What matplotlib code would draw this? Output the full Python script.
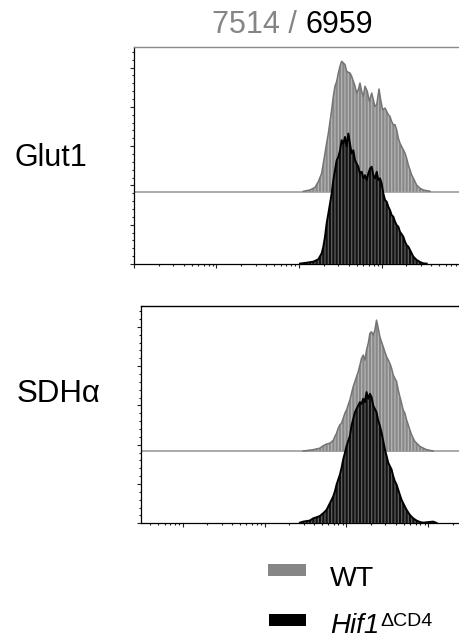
import numpy as np
import matplotlib
matplotlib.use('Agg')
import matplotlib.pyplot as plt
from matplotlib.ticker import MultipleLocator, LogLocator, NullFormatter
from matplotlib.patches import Rectangle

plt.rcParams['font.family'] = ['Liberation Sans', 'DejaVu Sans']
plt.rcParams['hatch.linewidth'] = 0.9

# histograms: log10 fluorescence vs % of mode
glut1_wt_log = [3.053, 3.133, 3.194, 3.234, 3.275, 3.295, 3.315, 3.335, 3.356, 3.376,
                3.396, 3.416, 3.436, 3.457, 3.477, 3.497, 3.517, 3.537, 3.558, 3.578,
                3.598, 3.618, 3.638, 3.659, 3.679, 3.699, 3.719, 3.739, 3.760, 3.780,
                3.800, 3.828, 3.853, 3.881, 3.901, 3.921, 3.942, 3.970, 3.990, 4.014,
                4.043, 4.063, 4.083, 4.103, 4.123, 4.144, 4.164, 4.184, 4.204, 4.224,
                4.244, 4.265, 4.285, 4.305, 4.325, 4.346, 4.366, 4.386, 4.406, 4.426,
                4.467, 4.507, 4.588]
glut1_wt_pct = [0.3, 1.3, 3.3, 7.7, 14.1, 21.8, 29.5, 37.2, 44.9, 53.8,
                62.8, 73.1, 80.8, 84.6, 91.0, 96.2, 100, 98.7, 97.4, 92.3,
                91.5, 91.0, 88.5, 84.6, 80.8, 75.6, 78.2, 83.3, 76.9, 73.1,
                80.8, 76.9, 69.2, 75.6, 70.5, 65.4, 66.7, 78.7, 70.5, 62.8,
                64.1, 61.5, 59.0, 57.7, 53.8, 51.3, 51.3, 47.4, 41.0, 37.2,
                34.6, 32.1, 29.5, 25.6, 20.5, 16.7, 12.8, 10.3, 7.7, 5.1,
                2.6, 1.3, 0.3]

glut1_ko_log = [3.012, 3.093, 3.174, 3.234, 3.275, 3.295, 3.315, 3.335, 3.356, 3.376,
                3.396, 3.416, 3.436, 3.457, 3.477, 3.497, 3.517, 3.537, 3.558, 3.578,
                3.598, 3.618, 3.638, 3.659, 3.679, 3.699, 3.719, 3.739, 3.760, 3.780,
                3.800, 3.820, 3.840, 3.861, 3.881, 3.901, 3.921, 3.942, 3.962, 3.982,
                4.002, 4.022, 4.043, 4.063, 4.083, 4.103, 4.123, 4.144, 4.164, 4.184,
                4.204, 4.224, 4.265, 4.285, 4.305, 4.325, 4.346, 4.366, 4.386, 4.426,
                4.467, 4.507, 4.548]
glut1_ko_pct = [0.3, 1.0, 1.8, 3.6, 8.2, 13.3, 20.9, 31.1, 38.8, 46.4,
                54.1, 64.3, 71.9, 79.6, 82.1, 87.2, 94.9, 92.3, 97.4, 89.8,
                100, 92.3, 84.7, 87.2, 79.6, 77.0, 74.5, 69.4, 70.7, 65.6,
                68.1, 64.3, 69.4, 73.2, 74.5, 68.1, 65.6, 70.7, 64.3, 65.6,
                61.7, 54.1, 49.0, 47.7, 43.9, 41.3, 37.5, 36.2, 32.4, 29.8,
                28.6, 24.7, 20.9, 17.1, 14.5, 13.3, 10.7, 8.2, 5.6, 3.1,
                1.5, 0.5, 0.3]

sdh_wt_log = [2.473, 2.595, 2.677, 2.717, 2.758, 2.799, 2.839, 2.860, 2.880, 2.900,
              2.921, 2.941, 2.961, 2.982, 3.002, 3.022, 3.043, 3.063, 3.083, 3.104,
              3.124, 3.145, 3.165, 3.185, 3.206, 3.226, 3.246, 3.267, 3.287, 3.307,
              3.328, 3.348, 3.368, 3.389, 3.409, 3.429, 3.450, 3.470, 3.491, 3.511,
              3.531, 3.552, 3.572, 3.592, 3.613, 3.633, 3.653, 3.674, 3.694, 3.714,
              3.735, 3.755, 3.775, 3.796, 3.816, 3.836, 3.857, 3.877, 3.898, 3.938,
              3.979, 4.060]
sdh_wt_pct = [0.3, 1.3, 2.5, 4.3, 5.6, 6.3, 8.4, 11.4, 13.9, 17.7,
              20.3, 21.5, 25.3, 29.1, 31.6, 35.4, 39.2, 44.3, 49.4, 53.2,
              57.0, 60.8, 65.8, 70.9, 73.4, 69.6, 77.2, 82.3, 89.9, 91.1,
              88.6, 92.4, 100, 93.7, 87.3, 83.5, 79.7, 75.9, 72.2, 69.6,
              67.1, 63.3, 58.2, 55.7, 53.2, 46.8, 41.8, 36.7, 31.6, 29.1,
              24.1, 20.3, 16.5, 12.7, 10.1, 7.6, 6.3, 5.1, 3.8, 2.5,
              1.3, 0.3]

sdh_ko_log = [2.432, 2.473, 2.554, 2.595, 2.636, 2.677, 2.717, 2.758, 2.778, 2.799,
              2.819, 2.839, 2.860, 2.880, 2.900, 2.921, 2.941, 2.961, 2.982, 3.002,
              3.022, 3.043, 3.063, 3.083, 3.104, 3.124, 3.145, 3.165, 3.185, 3.206,
              3.226, 3.246, 3.267, 3.287, 3.307, 3.328, 3.348, 3.368, 3.389, 3.409,
              3.429, 3.450, 3.470, 3.491, 3.511, 3.531, 3.552, 3.572, 3.592, 3.613,
              3.633, 3.653, 3.674, 3.694, 3.714, 3.735, 3.775, 3.816, 3.857, 3.898,
              3.938, 4.060, 4.101]
sdh_ko_pct = [0.5, 1.3, 2.1, 3.8, 4.6, 5.6, 7.7, 10.3, 12.8, 15.4,
              17.9, 20.5, 24.4, 29.5, 33.3, 37.2, 42.3, 48.7, 53.8, 59.0,
              62.8, 66.7, 74.4, 79.5, 84.6, 87.2, 89.7, 92.3, 91.0, 94.9,
              92.3, 100, 94.9, 98.7, 96.2, 89.7, 87.2, 84.6, 78.2, 74.4,
              69.2, 62.8, 56.4, 51.3, 46.2, 43.6, 41.0, 35.9, 32.1, 29.5,
              25.6, 21.8, 17.9, 15.4, 12.8, 10.3, 6.4, 3.8, 2.1, 1.0,
              0.5, 1.3, 0.3]

markers = ['Glut1', 'SDHα']
counts = ['7514', '6959']

W, H = 460, 639
fig = plt.figure(figsize=(W / 100, H / 100), dpi=100)


def px_axes(left, top, right, bottom):
    return fig.add_axes([left / W, 1 - bottom / H, (right - left) / W, (bottom - top) / H])


def draw_panel(ax, wt_log, wt_pct, ko_log, ko_pct, offset, peak, xlim, top_color):
    xw = 10 ** np.array(wt_log)
    yw = offset + np.array(wt_pct) * peak / 100
    ax.axhline(offset, color='#9c9c9c', lw=1.2, zorder=1.5)
    ax.fill_between(xw, offset, yw, facecolor='#888888', edgecolor='#b4b4b4',
                    hatch='|||||', linewidth=0, zorder=2)
    ax.plot(xw, yw, color='#747474', lw=1.1, zorder=3)

    xk = 10 ** np.array(ko_log)
    yk = np.array(ko_pct) * peak / 100
    ax.fill_between(xk, 0, yk, facecolor='#111111', edgecolor='#5e5e5e',
                    hatch='|||||', linewidth=0, zorder=4)
    ax.plot(xk, yk, color='black', lw=1.4, zorder=5)

    ax.set_xscale('log')
    ax.set_xlim(*xlim)
    ax.set_ylim(0, 5.53)
    ax.xaxis.set_major_locator(LogLocator(base=10))
    ax.xaxis.set_minor_locator(LogLocator(base=10, subs=np.arange(2, 10)))
    ax.xaxis.set_minor_formatter(NullFormatter())
    ax.yaxis.set_major_locator(MultipleLocator(1))
    ax.yaxis.set_minor_locator(MultipleLocator(0.2))
    ax.tick_params(which='both', direction='out', labelbottom=False, labelleft=False,
                   width=0.8, color='#222222')
    ax.tick_params(which='major', length=3)
    ax.tick_params(which='minor', length=1.5)
    for s in ['left', 'bottom']:
        ax.spines[s].set_linewidth(0.9)
    ax.spines['top'].set_color(top_color)
    ax.spines['top'].set_linewidth(1.0)
    ax.spines['right'].set_visible(False)


ax1 = px_axes(134, 46.7, 464, 264)
draw_panel(ax1, glut1_wt_log, glut1_wt_pct, glut1_ko_log, glut1_ko_pct,
           1.84, 3.32, (10 ** 1, 10 ** 5), '#8a8a8a')

ax2 = px_axes(140.7, 306, 470, 523.3)
draw_panel(ax2, sdh_wt_log, sdh_wt_pct, sdh_ko_log, sdh_ko_pct,
           1.83, 3.34, (10 ** 0.487, 10 ** 4.51), 'black')

renderer = fig.canvas.get_renderer()

# title: WT count in grey, KO count in black
t1 = fig.text(212 / W, 1 - 33 / H, counts[0] + ' / ', color='#858585', fontsize=22,
              va='baseline', ha='left')
bb = t1.get_window_extent(renderer)
fig.text(bb.x1 / W, 1 - 33 / H, counts[1], color='black', fontsize=22,
         va='baseline', ha='left')

fig.text(15 / W, 1 - 166 / H, markers[0], fontsize=22, va='baseline', ha='left')
fig.text(17 / W, 1 - 402 / H, markers[1], fontsize=22.5, va='baseline', ha='left')

# legend
fig.add_artist(Rectangle((268 / W, 1 - 576 / H), 38 / W, 12 / H, facecolor='#868686',
                         edgecolor='none', transform=fig.transFigure))
fig.add_artist(Rectangle((269 / W, 1 - 626 / H), 37 / W, 12 / H, facecolor='black',
                         edgecolor='none', transform=fig.transFigure))
fig.text(330 / W, 1 - 586 / H, 'WT', fontsize=20.5, va='baseline', ha='left')
t2 = fig.text(330 / W, 1 - 633 / H, 'Hif1', fontsize=20, style='italic',
              va='baseline', ha='left')
bb = t2.get_window_extent(renderer)
fig.text(bb.x1 / W + 0.003, 1 - 626 / H, 'ΔCD4', fontsize=14, va='baseline', ha='left')

plt.savefig('out.png', dpi=100)
